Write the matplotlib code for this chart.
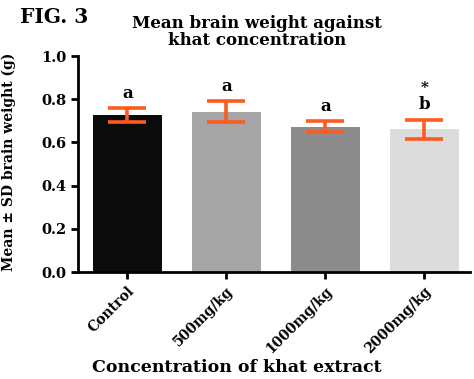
import matplotlib
matplotlib.use("Agg")
import matplotlib.pyplot as plt
import numpy as np

categories = ["Control", "500mg/kg", "1000mg/kg", "2000mg/kg"]
means = [0.725, 0.742, 0.673, 0.660]
sds = [0.032, 0.048, 0.025, 0.045]
letters = ["a", "a", "a", "b"]
stars = ["", "", "", "*"]
bar_colors = ["#0b0b0b", "#a5a5a5", "#8c8c8c", "#dcdcdc"]

plt.rcParams['font.family'] = ['DejaVu Serif']
plt.rcParams['font.weight'] = 'bold'

fig = plt.figure(figsize=(4.74, 3.79), dpi=100)
ax = fig.add_axes([78/474, 1-272/379, (470-78)/474, (272-56)/379])

x = np.arange(len(categories))
ax.bar(x, means, width=0.7, color=bar_colors, zorder=2)
ax.errorbar(x, means, yerr=sds, fmt='none', ecolor='#ff5a1f', elinewidth=2.6,
            capsize=13.5, capthick=2.6, zorder=3)

for xi, m, s, l, st in zip(x, means, sds, letters, stars):
    ax.text(xi, m + s + 0.03, l, ha='center', va='bottom', fontsize=12, fontweight='bold')
    if st:
        ax.text(xi, m + s + 0.115, st, ha='center', va='bottom', fontsize=11, fontweight='bold')

ax.set_xlim(-0.5, 3.46)
ax.set_ylim(0, 1.0)
ax.set_yticks([0.0, 0.2, 0.4, 0.6, 0.8, 1.0])
ax.set_yticklabels(["0.0", "0.2", "0.4", "0.6", "0.8", "1.0"], fontsize=10.5, fontweight='bold')
ax.set_xticks(x)
ax.set_xticklabels(categories, rotation=45, ha='right', rotation_mode='anchor',
                   fontsize=10, fontweight='bold')
ax.spines['top'].set_visible(False)
ax.spines['right'].set_visible(False)
ax.spines['left'].set_linewidth(2)
ax.spines['bottom'].set_linewidth(2)
ax.tick_params(axis='both', width=2, length=5, direction='out')

ax.set_ylabel("Mean \u00b1 SD brain weight (g)", fontsize=10, fontweight='bold')
ax.yaxis.set_label_coords((16 - 78) / 392, (272 - 162) / 216)
fig.text(237/474, 1-367/379, "Concentration of khat extract", ha='center', va='center',
         fontsize=12.5, fontweight='bold')
fig.text(257/474, 1-32/379, "Mean brain weight against\nkhat concentration", ha='center',
         va='center', fontsize=12, fontweight='bold', linespacing=1.05)
fig.text(20/474, 1-17/379, "FIG. 3", ha='left', va='center', fontsize=14.5, fontweight='bold')

fig.savefig("out.png", dpi=100)
